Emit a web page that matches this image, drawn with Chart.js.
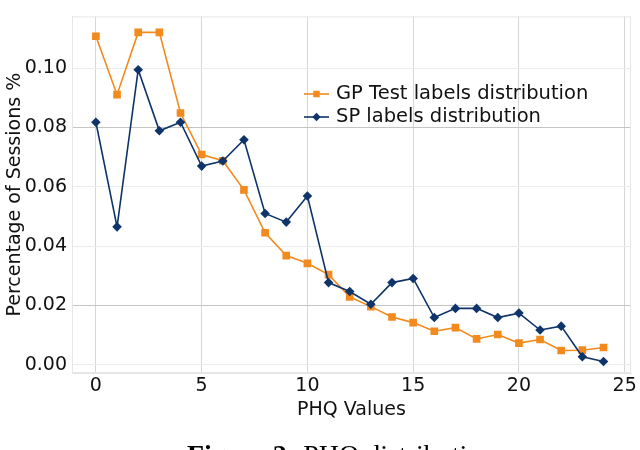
<!DOCTYPE html>
<html>
<head>
<meta charset="utf-8">
<script src="https://cdn.jsdelivr.net/npm/chart.js@4.4.0/dist/chart.umd.min.js"></script>
<style>
    html, body { margin: 0; padding: 0; background: #fff; }
    #wrap { position: relative; width: 640px; height: 450px; overflow: hidden; }
</style>
</head>
<body>
<div id="wrap"><canvas id="phqChart" width="640" height="450"></canvas></div>
<script>
// PHQ values 0..24
const phqValues = [0, 1, 2, 3, 4, 5, 6, 7, 8, 9, 10, 11, 12, 13, 14, 15, 16, 17, 18, 19, 20, 21, 22, 23, 24];
const gpTest = [0.1108, 0.0911, 0.1121, 0.1121, 0.0849, 0.0709, 0.0688, 0.0590, 0.0445, 0.0368, 0.0342, 0.0304, 0.0229,
    0.0196, 0.0161, 0.0142, 0.0113, 0.0125, 0.0087, 0.0102, 0.0073, 0.0085, 0.0048, 0.0049, 0.0058];
const spLabels = [0.0818, 0.0465, 0.0995, 0.0789, 0.0818, 0.0670, 0.0687, 0.0759, 0.0510, 0.0481, 0.0569, 0.0277, 0.0247,
    0.0204, 0.0277, 0.0291, 0.0159, 0.0190, 0.0190, 0.0159, 0.0174, 0.0117, 0.0130, 0.0027, 0.0011];
const xTicks = [0, 5, 10, 15, 20, 25];
const yTicks = [0, 0.02, 0.04, 0.06, 0.08, 0.10];
const seriesNames = ['GP Test labels distribution', 'SP labels distribution'];

const ORANGE = '#f28a1e';
const BLUE = '#0e3469';
const FONT = "'DejaVu Sans', sans-serif";

function pontos(valores) {
    return phqValues.map(function(x, i) {
        return { x: x, y: valores[i] };
    });
}

// frame, legend and caption drawn by hand, matplotlib style
const extras = {
    id: 'extras',
    beforeDatasetsDraw(chart) {
        const a = chart.chartArea;
        const ctx = chart.ctx;
        ctx.save();
        ctx.strokeStyle = '#e6e6e6';
        ctx.lineWidth = 1;
        ctx.strokeRect(a.left + 0.5, a.top + 0.5, a.right - a.left - 1, a.bottom - a.top - 1);
        ctx.restore();
    },
    afterDraw(chart) {
        const ctx = chart.ctx;
        const itens = [
            { nome: seriesNames[0], cor: ORANGE, estilo: 'rect', raio: 4.6, y: 94 },
            { nome: seriesNames[1], cor: BLUE, estilo: 'rectRot', raio: 4.2, y: 117 }
        ];
        ctx.save();
        itens.forEach(function(item) {
            ctx.strokeStyle = item.cor;
            ctx.lineWidth = 1.6;
            ctx.beginPath();
            ctx.moveTo(304, item.y);
            ctx.lineTo(329, item.y);
            ctx.stroke();
            ctx.fillStyle = item.cor;
            Chart.helpers.drawPoint(ctx, { pointStyle: item.estilo, radius: item.raio, borderWidth: 0 }, 316.5, item.y);
            ctx.fillStyle = '#111';
            ctx.font = '19.5px ' + FONT;
            ctx.textBaseline = 'middle';
            ctx.fillText(item.nome, 336, item.y);
        });
        // figure caption, cut by the bottom edge
        ctx.textBaseline = 'alphabetic';
        ctx.textAlign = 'left';
        ctx.fillStyle = '#000';
        ctx.font = "bold 28px 'Liberation Serif', serif";
        ctx.fillText('Figure 2:', 187, 464);
        const w = ctx.measureText('Figure 2: ').width;
        ctx.font = "28px 'Liberation Serif', serif";
        ctx.fillText('PHQ distribution', 187 + w, 464);
        ctx.restore();
    }
};

const ctx = document.getElementById('phqChart').getContext('2d');
const chartPhq = new Chart(ctx, {
    type: 'line',
    data: {
        datasets: [{
            label: seriesNames[0],
            data: pontos(gpTest),
            borderColor: ORANGE,
            backgroundColor: ORANGE,
            borderWidth: 1.6,
            pointStyle: 'rect',
            pointRadius: 5.4,
            pointBorderWidth: 0,
            tension: 0,
            order: 1
        }, {
            label: seriesNames[1],
            data: pontos(spLabels),
            borderColor: BLUE,
            backgroundColor: BLUE,
            borderWidth: 1.6,
            pointStyle: 'rectRot',
            pointRadius: 4.8,
            pointBorderWidth: 0,
            tension: 0,
            order: 0
        }]
    },
    options: {
        responsive: false,
        animation: false,
        devicePixelRatio: 1,
        layout: { padding: { top: 4, right: 9, left: 0, bottom: 29 } },
        plugins: {
            legend: { display: false },
            tooltip: { enabled: false }
        },
        scales: {
            x: {
                type: 'linear',
                min: -1.13,
                max: 25.3,
                afterBuildTicks: function(scale) {
                    scale.ticks = xTicks.map(function(v) { return { value: v }; });
                },
                afterFit: function(scale) { scale.height = 48; },
                grid: { color: '#d6d6d6', lineWidth: 1, drawTicks: false },
                border: { color: '#e4e4e4' },
                ticks: {
                    color: '#111',
                    font: { family: FONT, size: 19 },
                    padding: 2,
                    maxRotation: 0
                },
                title: {
                    display: true,
                    text: 'PHQ Values',
                    color: '#111',
                    font: { family: FONT, size: 19 },
                    padding: { top: 0, bottom: 0 }
                }
            },
            y: {
                min: -0.0028,
                max: 0.1175,
                afterBuildTicks: function(scale) {
                    scale.ticks = yTicks.map(function(v) { return { value: v }; });
                },
                afterFit: function(scale) { scale.width = 72; },
                grid: {
                    color: function(c) {
                        const v = c.tick ? c.tick.value : null;
                        return (v === 0.02 || v === 0.08) ? '#c4c4c4' : '#ececec';
                    },
                    lineWidth: 1,
                    drawTicks: false
                },
                border: { color: '#e4e4e4' },
                ticks: {
                    color: '#111',
                    font: { family: FONT, size: 19 },
                    padding: 5,
                    callback: function(value) {
                        return value.toFixed(2);
                    }
                },
                title: {
                    display: true,
                    text: 'Percentage of Sessions %',
                    color: '#111',
                    font: { family: FONT, size: 19 },
                    padding: { bottom: 0 }
                }
            }
        }
    },
    plugins: [extras]
});
</script>
</body>
</html>
